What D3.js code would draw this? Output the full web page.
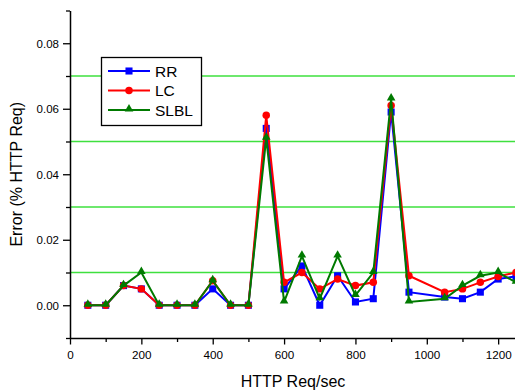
<!DOCTYPE html>
<html>
<head>
<meta charset="utf-8">
<script src="https://cdn.jsdelivr.net/npm/d3@7"></script>
<style>
  body { margin: 0; background: #fff; }
  svg { display: block; font-family: "Liberation Sans", Arial, sans-serif; }
</style>
</head>
<body>
<div id="chart"></div>
<script>
// request rates (1000 is missing in the original)
var reqRates = [50, 100, 150, 200, 250, 300, 350, 400, 450, 500, 550, 600, 650, 700, 750, 800, 850, 900, 950, 1050, 1100, 1150, 1200, 1250];
var rrErr   = [0, 0, 0.006, 0.005, 0, 0, 0, 0.005, 0, 0, 0.054, 0.005, 0.012, 0, 0.009, 0.001, 0.002, 0.059, 0.004, 0.0025, 0.002, 0.004, 0.008, 0.0088];
var lcErr   = [0, 0, 0.006, 0.005, 0, 0, 0, 0.0075, 0, 0, 0.058, 0.007, 0.010, 0.005, 0.008, 0.006, 0.007, 0.061, 0.009, 0.004, 0.005, 0.007, 0.0088, 0.010];
var slblErr = [0, 0, 0.006, 0.010, 0, 0, 0, 0.0075, 0, 0, 0.051, 0.001, 0.015, 0.002, 0.015, 0.003, 0.010, 0.063, 0.001, 0.002, 0.006, 0.009, 0.010, 0.007];
var seriesNames = ['RR', 'LC', 'SLBL'];
var gridValues = [0.01, 0.03, 0.05, 0.07];
var xTickLabels = [0, 200, 400, 600, 800, 1000, 1200];

var width = 515, height = 390;

var x = d3.scaleLinear().domain([0, 1250]).range([70, 516]);
var y = d3.scaleLinear().domain([-0.01, 0.09]).range([338, 10.5]);

var svg = d3.select('#chart').append('svg')
  .attr('width', width)
  .attr('height', height);

// green horizontal lines
svg.selectAll('.grid')
  .data(gridValues)
  .enter().append('line')
  .attr('class', 'grid')
  .attr('x1', x(0))
  .attr('x2', width)
  .attr('y1', function (d) { return y(d); })
  .attr('y2', function (d) { return y(d); })
  .style('stroke', '#3ee03e')
  .style('stroke-width', 1.3);

// axes
var xAxis = d3.axisBottom(x)
  .tickValues(d3.range(0, 1300, 100))
  .tickSize(0)
  .tickFormat('');
var yAxis = d3.axisLeft(y)
  .tickValues(d3.range(-0.01, 0.0951, 0.01))
  .tickSize(0)
  .tickFormat('');

var gx = svg.append('g')
  .attr('transform', 'translate(0,' + y(-0.01) + ')')
  .call(xAxis);
gx.selectAll('.tick line')
  .attr('y2', function (d) { return d % 200 === 0 ? 6.5 : 4; });
gx.selectAll('.tick')
  .filter(function (d) { return xTickLabels.indexOf(d) !== -1; })
  .append('text')
  .attr('y', 21)
  .attr('fill', '#000')
  .style('font-size', '11.7px')
  .style('text-anchor', 'middle')
  .text(function (d) { return d; });

var gy = svg.append('g')
  .attr('transform', 'translate(' + x(0) + ',0)')
  .call(yAxis);
gy.selectAll('.tick line')
  .attr('x2', function (d, i) { return i % 2 === 1 ? -7 : -4; });
gy.selectAll('.tick')
  .filter(function (d, i) { return i % 2 === 1; })
  .append('text')
  .attr('x', -11)
  .attr('dy', '0.36em')
  .attr('fill', '#000')
  .style('font-size', '11.5px')
  .style('text-anchor', 'end')
  .text(function (d) { return d3.format('.2f')(Math.abs(d) < 1e-9 ? 0 : d); });

svg.selectAll('.domain')
  .style('stroke', '#000')
  .style('stroke-width', 1.5);
svg.selectAll('.tick line')
  .style('stroke', '#000')
  .style('stroke-width', 1.3);

// axis titles
svg.append('text')
  .attr('x', x(625))
  .attr('y', 387)
  .style('font-size', '16px')
  .style('text-anchor', 'middle')
  .text('HTTP Req/sec');

svg.append('text')
  .attr('transform', 'translate(22,' + y(0.04) + ') rotate(-90)')
  .style('font-size', '16px')
  .style('text-anchor', 'middle')
  .text('Error (% HTTP Req)');

// series
var series = [
  { name: seriesNames[0], values: rrErr, color: '#0000ff', shape: d3.symbolSquare, size: 50 },
  { name: seriesNames[1], values: lcErr, color: '#ff0000', shape: d3.symbolCircle, size: 44 },
  { name: seriesNames[2], values: slblErr, color: '#007a00', shape: d3.symbolTriangle, size: 32 }
];

var line = d3.line()
  .x(function (d) { return x(d[0]); })
  .y(function (d) { return y(d[1]); });

series.forEach(function (s) {
  var pts = reqRates.map(function (r, i) { return [r, s.values[i]]; });
  svg.append('path')
    .datum(pts)
    .attr('d', line)
    .style('fill', 'none')
    .style('stroke', s.color)
    .style('stroke-width', 2);
  svg.selectAll('.m-' + s.name)
    .data(pts)
    .enter().append('path')
    .attr('class', 'm-' + s.name)
    .attr('d', d3.symbol().type(s.shape).size(s.size))
    .attr('transform', function (d) {
      var dy = s.shape === d3.symbolTriangle ? -1 : 0;
      return 'translate(' + x(d[0]) + ',' + (y(d[1]) + dy) + ')';
    })
    .style('fill', s.color);
});

// legend
var legend = svg.append('g');
legend.append('rect')
  .attr('x', 101.5)
  .attr('y', 57.5)
  .attr('width', 100)
  .attr('height', 68)
  .style('fill', '#fff')
  .style('stroke', '#000')
  .style('stroke-width', 1.3);

var items = legend.selectAll('.item')
  .data(series)
  .enter().append('g')
  .attr('class', 'item')
  .attr('transform', function (d, i) { return 'translate(0,' + (71 + i * 19.5) + ')'; });

items.append('line')
  .attr('x1', 108)
  .attr('x2', 150)
  .style('stroke', function (d) { return d.color; })
  .style('stroke-width', 2);
items.append('path')
  .attr('d', function (d) { return d3.symbol().type(d.shape).size(d.size)(); })
  .attr('transform', function (d) { return 'translate(129,' + (d.shape === d3.symbolTriangle ? -1 : 0) + ')'; })
  .style('fill', function (d) { return d.color; });
items.append('text')
  .attr('x', 155)
  .attr('dy', '0.36em')
  .style('font-size', '15.5px')
  .text(function (d) { return d.name; });
</script>
</body>
</html>
